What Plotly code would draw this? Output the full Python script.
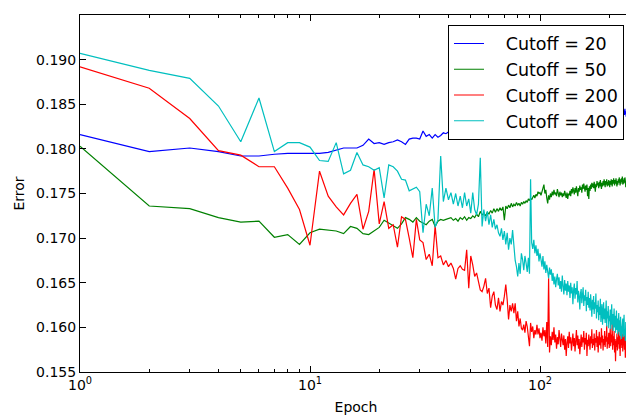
import plotly.graph_objects as go

epochs = list(range(1, 251))

cutoff_20 = [
    0.1816, 0.1797, 0.1801, 0.1797, 0.1792, 0.1792, 0.1794, 0.1795, 0.1795, 0.1795,
    0.1795, 0.1796, 0.1799, 0.1801, 0.1801, 0.1801, 0.1804, 0.1811, 0.1806, 0.1807,
    0.1805, 0.1807, 0.1808, 0.1810, 0.1808, 0.1805, 0.1811, 0.1812, 0.1812, 0.1811,
    0.1820, 0.1814, 0.1816, 0.1812, 0.1816, 0.1813, 0.1815, 0.1818, 0.1817, 0.1819,
    0.1818, 0.1815, 0.1819, 0.1816, 0.1814, 0.1818, 0.1820, 0.1821, 0.1819, 0.1822,
    0.1823, 0.1821, 0.1824, 0.1822, 0.1825, 0.1823, 0.1826, 0.1824, 0.1827, 0.1825,
    0.1828, 0.1826, 0.1829, 0.1827, 0.1830, 0.1828, 0.1829, 0.1831, 0.1828, 0.1830,
    0.1832, 0.1829, 0.1831, 0.1833, 0.1830, 0.1832, 0.1834, 0.1831, 0.1833, 0.1835,
    0.1832, 0.1834, 0.1836, 0.1833, 0.1835, 0.1837, 0.1834, 0.1836, 0.1838, 0.1835,
    0.1837, 0.1834, 0.1836, 0.1838, 0.1835, 0.1837, 0.1839, 0.1836, 0.1838, 0.1835,
    0.1838, 0.1836, 0.1839, 0.1837, 0.1835, 0.1838, 0.1840, 0.1836, 0.1839, 0.1837,
    0.1835, 0.1839, 0.1837, 0.1840, 0.1836, 0.1838, 0.1841, 0.1837, 0.1839, 0.1836,
    0.1840, 0.1838, 0.1836, 0.1841, 0.1839, 0.1837, 0.1840, 0.1838, 0.1842, 0.1837,
    0.1839, 0.1841, 0.1836, 0.1840, 0.1838, 0.1842, 0.1839, 0.1837, 0.1841, 0.1838,
    0.1840, 0.1837, 0.1842, 0.1839, 0.1836, 0.1841, 0.1838, 0.1843, 0.1839, 0.1837,
    0.1841, 0.1838, 0.1840, 0.1842, 0.1837, 0.1841, 0.1839, 0.1843, 0.1838, 0.1840,
    0.1842, 0.1837, 0.1841, 0.1839, 0.1843, 0.1838, 0.1840, 0.1842, 0.1839, 0.1841,
    0.1837, 0.1842, 0.1840, 0.1838, 0.1843, 0.1839, 0.1841, 0.1844, 0.1838, 0.1840,
    0.1842, 0.1839, 0.1843, 0.1840, 0.1838, 0.1842, 0.1841, 0.1839, 0.1844, 0.1840,
    0.1838, 0.1843, 0.1841, 0.1839, 0.1842, 0.1840, 0.1844, 0.1838, 0.1841, 0.1843,
    0.1839, 0.1842, 0.1840, 0.1844, 0.1838, 0.1841, 0.1843, 0.1839, 0.1842, 0.1840,
    0.1844, 0.1839, 0.1841, 0.1843, 0.1838, 0.1842, 0.1840, 0.1845, 0.1839, 0.1841,
    0.1843, 0.1839, 0.1842, 0.1840, 0.1844, 0.1838, 0.1841, 0.1843, 0.1840, 0.1842,
    0.1840, 0.1843, 0.1838, 0.1845, 0.1839, 0.1842, 0.1836, 0.1844, 0.1840, 0.1846,
    0.1838, 0.1843, 0.1837, 0.1841, 0.1845, 0.1839, 0.1842, 0.1836, 0.1840, 0.1838,
]

cutoff_50 = [
    0.1803, 0.1736, 0.1733, 0.1723, 0.1718, 0.1719, 0.1701, 0.1704, 0.1693, 0.1706,
    0.1710, 0.1709, 0.1708, 0.1705, 0.1713, 0.1711, 0.1705, 0.1704, 0.1708, 0.1712,
    0.1720, 0.1717, 0.1714, 0.1711, 0.1716, 0.1723, 0.1721, 0.1718, 0.1723, 0.1719,
    0.1717, 0.1715, 0.1719, 0.1721, 0.1713, 0.1719, 0.1721, 0.1720, 0.1721, 0.1722,
    0.1723, 0.1720, 0.1722, 0.1719, 0.1723, 0.1721, 0.1724, 0.1720, 0.1723, 0.1722,
    0.1725, 0.1723, 0.1727, 0.1724, 0.1730, 0.1726, 0.1728, 0.1725, 0.1729, 0.1727,
    0.1731, 0.1728, 0.1733, 0.1729, 0.1733, 0.1730, 0.1734, 0.1731, 0.1735, 0.1720,
    0.1736, 0.1733, 0.1737, 0.1734, 0.1739, 0.1735, 0.1738, 0.1736, 0.1740, 0.1737,
    0.1739, 0.1736, 0.1740, 0.1738, 0.1741, 0.1739, 0.1742, 0.1740, 0.1744, 0.1742,
    0.1745, 0.1743, 0.1746, 0.1748, 0.1745, 0.1749, 0.1747, 0.1752, 0.1750, 0.1751,
    0.1748, 0.1753, 0.1756, 0.1760, 0.1750, 0.1754, 0.1745, 0.1739, 0.1748, 0.1743,
    0.1750, 0.1746, 0.1752, 0.1748, 0.1754, 0.1749, 0.1751, 0.1747, 0.1755, 0.1750,
    0.1746, 0.1752, 0.1748, 0.1751, 0.1746, 0.1750, 0.1747, 0.1753, 0.1749, 0.1745,
    0.1751, 0.1744, 0.1750, 0.1748, 0.1753, 0.1747, 0.1755, 0.1750, 0.1757, 0.1752,
    0.1749, 0.1756, 0.1751, 0.1758, 0.1753, 0.1747, 0.1756, 0.1752, 0.1759, 0.1754,
    0.1757, 0.1751, 0.1760, 0.1755, 0.1761, 0.1756, 0.1752, 0.1759, 0.1754, 0.1760,
    0.1747, 0.1756, 0.1744, 0.1758, 0.1753, 0.1760, 0.1755, 0.1762, 0.1757, 0.1761,
    0.1756, 0.1763, 0.1758, 0.1752, 0.1761, 0.1757, 0.1764, 0.1759, 0.1762, 0.1756,
    0.1763, 0.1758, 0.1765, 0.1760, 0.1755, 0.1762, 0.1758, 0.1764, 0.1759, 0.1766,
    0.1761, 0.1757, 0.1764, 0.1760, 0.1766, 0.1758, 0.1763, 0.1759, 0.1765, 0.1761,
    0.1757, 0.1764, 0.1760, 0.1766, 0.1762, 0.1758, 0.1765, 0.1761, 0.1767, 0.1763,
    0.1759, 0.1765, 0.1761, 0.1767, 0.1762, 0.1758, 0.1764, 0.1760, 0.1766, 0.1762,
    0.1768, 0.1763, 0.1759, 0.1766, 0.1761, 0.1767, 0.1763, 0.1769, 0.1760, 0.1765,
    0.1761, 0.1767, 0.1762, 0.1768, 0.1764, 0.1757, 0.1766, 0.1762, 0.1768, 0.1763,
    0.1769, 0.1760, 0.1766, 0.1762, 0.1768, 0.1763, 0.1759, 0.1767, 0.1762, 0.1765,
]

cutoff_200 = [
    0.1892, 0.1868, 0.1834, 0.1798, 0.1793, 0.1780, 0.1780, 0.1756, 0.1732, 0.1692,
    0.1775, 0.1747, 0.1735, 0.1726, 0.1739, 0.1749, 0.1710, 0.1730, 0.1777, 0.1716,
    0.1741, 0.1711, 0.1715, 0.1690, 0.1724, 0.1721, 0.1700, 0.1678, 0.1721, 0.1698,
    0.1695, 0.1676, 0.1682, 0.1669, 0.1714, 0.1678, 0.1680, 0.1670, 0.1675, 0.1668,
    0.1672, 0.1666, 0.1654, 0.1666, 0.1669, 0.1665, 0.1664, 0.1687, 0.1644, 0.1680,
    0.1670, 0.1657, 0.1661, 0.1650, 0.1642, 0.1640, 0.1646, 0.1655, 0.1638, 0.1644,
    0.1622, 0.1635, 0.1640, 0.1625, 0.1620, 0.1633, 0.1618, 0.1629, 0.1625, 0.1635,
    0.1648, 0.1631, 0.1609, 0.1625, 0.1618, 0.1627, 0.1616, 0.1627, 0.1607, 0.1618,
    0.1601, 0.1610, 0.1599, 0.1597, 0.1603, 0.1594, 0.1607, 0.1601, 0.1592, 0.1579,
    0.1605, 0.1595, 0.1601, 0.1588, 0.1597, 0.1592, 0.1603, 0.1592, 0.1599, 0.1588,
    0.1594, 0.1585, 0.1600, 0.1590, 0.1597, 0.1582, 0.1606, 0.1578, 0.1655, 0.1572,
    0.1590, 0.1580, 0.1595, 0.1586, 0.1600, 0.1583, 0.1592, 0.1576, 0.1589, 0.1581,
    0.1597, 0.1584, 0.1578, 0.1593, 0.1586, 0.1580, 0.1591, 0.1575, 0.1587, 0.1568,
    0.1583, 0.1590, 0.1577, 0.1595, 0.1582, 0.1589, 0.1574, 0.1586, 0.1593, 0.1579,
    0.1588, 0.1573, 0.1585, 0.1597, 0.1580, 0.1591, 0.1576, 0.1587, 0.1570, 0.1584,
    0.1592, 0.1578, 0.1589, 0.1583, 0.1596, 0.1575, 0.1588, 0.1581, 0.1594, 0.1568,
    0.1586, 0.1579, 0.1592, 0.1584, 0.1575, 0.1590, 0.1582, 0.1598, 0.1577, 0.1587,
    0.1580, 0.1593, 0.1574, 0.1588, 0.1583, 0.1597, 0.1578, 0.1590, 0.1572, 0.1585,
    0.1595, 0.1580, 0.1589, 0.1576, 0.1599, 0.1583, 0.1591, 0.1574, 0.1587, 0.1580,
    0.1596, 0.1578, 0.1590, 0.1584, 0.1602, 0.1576, 0.1589, 0.1581, 0.1594, 0.1577,
    0.1588, 0.1599, 0.1579, 0.1592, 0.1583, 0.1604, 0.1575, 0.1590, 0.1580, 0.1596,
    0.1572, 0.1587, 0.1562, 0.1585, 0.1578, 0.1593, 0.1574, 0.1589, 0.1581, 0.1598,
    0.1576, 0.1591, 0.1568, 0.1586, 0.1580, 0.1601, 0.1577, 0.1593, 0.1573, 0.1588,
    0.1582, 0.1597, 0.1575, 0.1590, 0.1566, 0.1585, 0.1579, 0.1595, 0.1574, 0.1589,
    0.1580, 0.1600, 0.1576, 0.1592, 0.1570, 0.1586, 0.1596, 0.1578, 0.1588, 0.1573,
]

cutoff_400 = [
    0.1907, 0.1888, 0.1879, 0.1848, 0.1808, 0.1857, 0.1797, 0.1807, 0.1807, 0.1802,
    0.1787, 0.1786, 0.1807, 0.1772, 0.1776, 0.1796, 0.1782, 0.1780, 0.1776, 0.1779,
    0.1745, 0.1782, 0.1780, 0.1775, 0.1766, 0.1765, 0.1753, 0.1755, 0.1757, 0.1752,
    0.1706, 0.1738, 0.1725, 0.1756, 0.1712, 0.1721, 0.1792, 0.1741, 0.1756, 0.1743,
    0.1751, 0.1738, 0.1750, 0.1736, 0.1747, 0.1734, 0.1751, 0.1736, 0.1744, 0.1728,
    0.1751, 0.1732, 0.1726, 0.1738, 0.1790, 0.1713, 0.1732, 0.1719, 0.1730, 0.1715,
    0.1726, 0.1712, 0.1721, 0.1710, 0.1715, 0.1706, 0.1702, 0.1711, 0.1698, 0.1708,
    0.1693, 0.1706, 0.1687, 0.1700, 0.1693, 0.1709, 0.1685, 0.1675, 0.1668, 0.1657,
    0.1672, 0.1660, 0.1683, 0.1676, 0.1664, 0.1680, 0.1672, 0.1662, 0.1678, 0.1660,
    0.1766, 0.1695, 0.1688, 0.1698, 0.1683, 0.1692, 0.1680, 0.1688, 0.1674, 0.1683,
    0.1676, 0.1668, 0.1680, 0.1665, 0.1674, 0.1661, 0.1670, 0.1663, 0.1655, 0.1667,
    0.1659, 0.1665, 0.1652, 0.1661, 0.1648, 0.1657, 0.1645, 0.1654, 0.1660, 0.1647,
    0.1656, 0.1643, 0.1652, 0.1640, 0.1658, 0.1646, 0.1637, 0.1653, 0.1641, 0.1649,
    0.1636, 0.1652, 0.1640, 0.1647, 0.1633, 0.1650, 0.1638, 0.1645, 0.1626, 0.1642,
    0.1649, 0.1632, 0.1644, 0.1637, 0.1652, 0.1628, 0.1641, 0.1635, 0.1620, 0.1638,
    0.1643, 0.1627, 0.1639, 0.1645, 0.1624, 0.1636, 0.1630, 0.1642, 0.1618, 0.1634,
    0.1625, 0.1640, 0.1622, 0.1633, 0.1619, 0.1637, 0.1626, 0.1612, 0.1631, 0.1620,
    0.1635, 0.1615, 0.1628, 0.1621, 0.1638, 0.1610, 0.1625, 0.1617, 0.1630, 0.1608,
    0.1623, 0.1614, 0.1632, 0.1606, 0.1619, 0.1626, 0.1603, 0.1616, 0.1628, 0.1609,
    0.1621, 0.1605, 0.1615, 0.1630, 0.1601, 0.1618, 0.1610, 0.1624, 0.1599, 0.1613,
    0.1607, 0.1620, 0.1598, 0.1612, 0.1626, 0.1603, 0.1615, 0.1596, 0.1609, 0.1621,
    0.1600, 0.1613, 0.1594, 0.1606, 0.1619, 0.1597, 0.1610, 0.1592, 0.1604, 0.1616,
    0.1595, 0.1608, 0.1590, 0.1612, 0.1599, 0.1587, 0.1605, 0.1593, 0.1610, 0.1589,
    0.1601, 0.1614, 0.1591, 0.1598, 0.1585, 0.1606, 0.1594, 0.1580, 0.1600, 0.1588,
    0.1597, 0.1583, 0.1603, 0.1590, 0.1578, 0.1596, 0.1586, 0.1575, 0.1592, 0.1571,
]

series_names = ["Cutoff = 20", "Cutoff = 50", "Cutoff = 200", "Cutoff = 400"]
series_values = [cutoff_20, cutoff_50, cutoff_200, cutoff_400]
series_colors = ["#0000ff", "#008000", "#ff0000", "#00bfbf"]

x_tick_vals = [1, 10, 100]
x_tick_text = ["10<sup>0</sup>", "10<sup>1</sup>", "10<sup>2</sup>"]
x_minor_vals = [2, 3, 4, 5, 6, 7, 8, 9, 20, 30, 40, 50, 60, 70, 80, 90, 200]

FONT = "DejaVu Sans"
LEGEND_GAP = "\u00a0\u00a0\u00a0"  # extra gap between the legend sample and its label

fig = go.Figure()
for name, vals, col in zip(series_names, series_values, series_colors):
    fig.add_trace(go.Scatter(
        x=epochs, y=vals, mode="lines", name=LEGEND_GAP + name,
        line=dict(color=col, width=1.2),
    ))

# the page body adds an 8px offset, so the figure is sized to fit the window
fig.update_layout(
    width=626, height=409,
    margin=dict(l=72, r=2, t=7, b=45),
    paper_bgcolor="white", plot_bgcolor="white",
    font=dict(family=FONT, size=14, color="black"),
    showlegend=True,
    legend=dict(
        x=0.9855, y=0.973, xanchor="right", yanchor="top",
        bgcolor="white", bordercolor="black", borderwidth=1,
        font=dict(family=FONT, size=17.5, color="black"),
        tracegroupgap=0,
    ),
)

fig.update_xaxes(
    type="log", range=[0, 2.4], automargin=False,
    tickvals=x_tick_vals, ticktext=x_tick_text,
    ticks="inside", ticklen=6, tickwidth=1, tickcolor="black",
    minor=dict(tickvals=x_minor_vals, ticks="inside", ticklen=3, tickcolor="black", showgrid=False),
    showline=True, linecolor="black", linewidth=1, mirror="ticks",
    showgrid=False, zeroline=False,
    tickfont=dict(family=FONT, size=14),
    title=dict(text="Epoch", font=dict(family=FONT, size=14), standoff=10),
)
fig.update_yaxes(
    range=[0.155, 0.195], tick0=0.155, dtick=0.005, tickformat=".3f",
    automargin=False,
    ticks="inside", ticklen=6, tickwidth=1, tickcolor="black",
    showline=True, linecolor="black", linewidth=1, mirror="ticks",
    showgrid=False, zeroline=False,
    tickfont=dict(family=FONT, size=14),
    title=dict(text="Error", font=dict(family=FONT, size=14), standoff=8),
)

fig.write_html("out.html")
